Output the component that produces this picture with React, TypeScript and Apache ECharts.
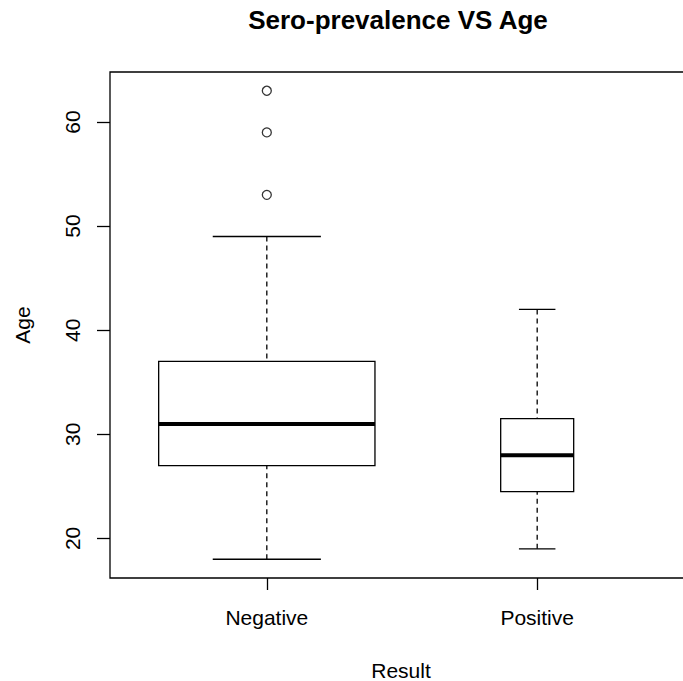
import React, { useEffect, useRef } from "react";
import * as echarts from "echarts";

const categories = ["Negative", "Positive"];
const lowerWhisker = [18, 19];
const q1 = [27, 24.5];
const median = [31, 28];
const q3 = [37, 31.5];
const upperWhisker = [49, 42];
const outlierGroup = [1, 1, 1];
const outlierValues = [53, 59, 63];
const yTicks = [20, 30, 40, 50, 60];
const relativeBoxWidth = [0.8, 0.27];

const FONT = "'Liberation Sans', Arial, Helvetica, sans-serif";

export default function App() {
  const ref = useRef<HTMLDivElement>(null);
  useEffect(() => {
    const chart = echarts.init(ref.current!, null, { renderer: "svg" });
    const boxData = categories.map((_, i) => [
      i + 1,
      lowerWhisker[i],
      q1[i],
      median[i],
      q3[i],
      upperWhisker[i],
      relativeBoxWidth[i],
    ]);
    const outliers = outlierValues.map((v, i) => [outlierGroup[i], v]);

    chart.setOption({
      animation: false,
      backgroundColor: "#fff",
      grid: {
        left: 110,
        top: 72,
        bottom: 103,
        right: 0,
        show: true,
        borderColor: "#000",
        borderWidth: 1.3,
        backgroundColor: "transparent",
      },
      xAxis: {
        type: "value",
        min: 0.42,
        max: 2.58,
        splitLine: { show: false },
        axisLine: { show: false },
        axisTick: {
          show: true,
          length: 12,
          customValues: [1, 2],
          lineStyle: { color: "#000", width: 1.3 },
        },
        axisLabel: {
          customValues: [1, 2],
          formatter: (v: number) => categories[Math.round(v) - 1] ?? "",
          fontSize: 21,
          color: "#000",
          margin: 29,
          fontFamily: FONT,
        },
      },
      yAxis: {
        type: "value",
        min: 16.2,
        max: 64.8,
        splitLine: { show: false },
        axisLine: { show: false },
        axisTick: {
          show: true,
          length: 13,
          customValues: yTicks,
          lineStyle: { color: "#000", width: 1.3 },
        },
        axisLabel: {
          customValues: yTicks,
          rotate: 90,
          fontSize: 21,
          color: "#000",
          margin: 27,
          fontFamily: FONT,
        },
      },
      graphic: [
        {
          type: "text",
          x: 398,
          y: 20,
          style: {
            text: "Sero-prevalence VS Age",
            fontSize: 26,
            fontWeight: "bold",
            fontFamily: FONT,
            fill: "#000",
            align: "center",
            verticalAlign: "middle",
            textAlign: "center",
            textVerticalAlign: "middle",
          },
        },
        {
          type: "text",
          x: 401,
          y: 670,
          style: {
            text: "Result",
            fontSize: 21,
            fontFamily: FONT,
            fill: "#000",
            align: "center",
            verticalAlign: "middle",
            textAlign: "center",
            textVerticalAlign: "middle",
          },
        },
        {
          type: "text",
          x: 22,
          y: 325,
          rotation: Math.PI / 2,
          style: {
            text: "Age",
            fontSize: 21,
            fontFamily: FONT,
            fill: "#000",
            align: "center",
            verticalAlign: "middle",
            textAlign: "center",
            textVerticalAlign: "middle",
          },
        },
      ],
      series: [
        {
          type: "custom",
          data: boxData,
          dimensions: ["x", "low", "q1", "med", "q3", "high", "w"],
          encode: { x: 0, y: [1, 2, 3, 4, 5] },
          renderItem: (params: any, api: any) => {
            const x = api.value(0);
            const w = api.value(6);
            const lo = api.coord([x, api.value(1)]);
            const b1 = api.coord([x, api.value(2)]);
            const md = api.coord([x, api.value(3)]);
            const b3 = api.coord([x, api.value(4)]);
            const hi = api.coord([x, api.value(5)]);
            const halfW = api.size([w, 0])[0] / 2;
            const cx = lo[0];
            const line = { stroke: "#000", lineWidth: 1.3, fill: "none" };
            return {
              type: "group",
              children: [
                {
                  type: "line",
                  shape: { x1: cx, y1: hi[1], x2: cx, y2: b3[1] },
                  style: { ...line, lineDash: [5, 4] },
                },
                {
                  type: "line",
                  shape: { x1: cx, y1: lo[1], x2: cx, y2: b1[1] },
                  style: { ...line, lineDash: [5, 4] },
                },
                {
                  type: "line",
                  shape: { x1: cx - halfW / 2, y1: hi[1], x2: cx + halfW / 2, y2: hi[1] },
                  style: line,
                },
                {
                  type: "line",
                  shape: { x1: cx - halfW / 2, y1: lo[1], x2: cx + halfW / 2, y2: lo[1] },
                  style: line,
                },
                {
                  type: "rect",
                  shape: { x: cx - halfW, y: b3[1], width: 2 * halfW, height: b1[1] - b3[1] },
                  style: { stroke: "#000", lineWidth: 1.3, fill: "#fff" },
                },
                {
                  type: "line",
                  shape: { x1: cx - halfW, y1: md[1], x2: cx + halfW, y2: md[1] },
                  style: { stroke: "#000", lineWidth: 4, fill: "none" },
                },
              ],
            };
          },
        },
        {
          type: "scatter",
          data: outliers,
          symbol: "circle",
          symbolSize: 9,
          itemStyle: { color: "#fff", borderColor: "#000", borderWidth: 1.3 },
        },
      ],
    });
    return () => chart.dispose();
  }, []);
  return (
    <div
      ref={ref}
      style={{ position: "fixed", left: 0, top: 0, width: 694, height: 681 }}
    />
  );
}
